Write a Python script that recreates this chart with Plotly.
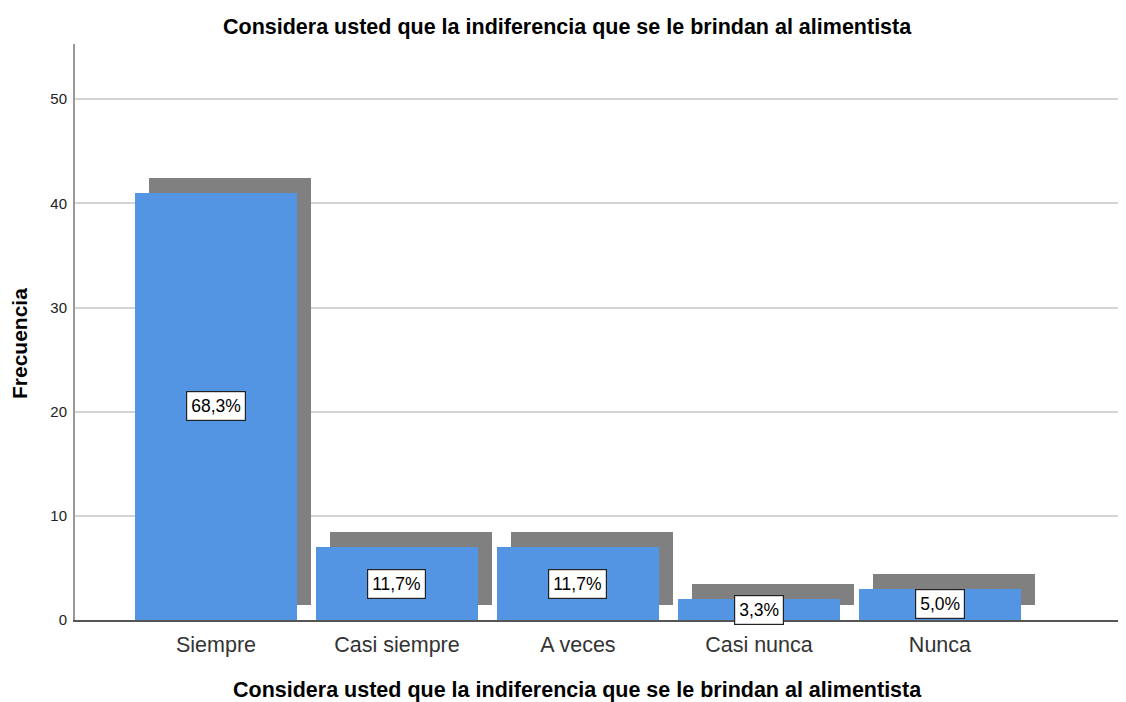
import plotly.graph_objects as go

categories = ["Siempre", "Casi siempre", "A veces", "Casi nunca", "Nunca"]
frequencies = [41, 7, 7, 2, 3]
percent_labels = ["68,3%", "11,7%", "11,7%", "3,3%", "5,0%"]
title_text = "Considera usted que la indiferencia que se le brindan al alimentista"

positions = list(range(len(categories)))
shadow_dx = 0.075
shadow_dy = 1.45
bar_w = 0.895

# page has an 8px body margin; plot area targeted at x 75..1126, y 44..620
W, H = 1118, 694
ML, MT, MB = 67, 36, 82
PW, PH = W - ML, H - MT - MB

def px_x(p):
    return (p - 75) / PW

def px_y(p):
    return (620 - p) / PH

fig = go.Figure()
fig.add_trace(go.Bar(
    x=[p + shadow_dx for p in positions], y=frequencies, base=shadow_dy,
    width=bar_w, marker=dict(color="#808080", line=dict(width=0)),
    hoverinfo="skip", showlegend=False))
fig.add_trace(go.Bar(
    x=positions, y=frequencies, width=bar_w,
    marker=dict(color="#5394E3", line=dict(width=0)),
    showlegend=False, name="Frecuencia"))

for p, v, t in zip(positions, frequencies, percent_labels):
    fig.add_annotation(x=p, y=v / 2, xref="x", yref="y", text=t, showarrow=False,
                       xanchor="center", yanchor="middle",
                       font=dict(family="Liberation Sans, Arial", size=17.5, color="#000"),
                       bgcolor="#ffffff", bordercolor="#222222", borderwidth=1.2, borderpad=4)

fig.add_annotation(text="<b>" + title_text + "</b>", xref="paper", yref="paper",
                   x=px_x(567), y=px_y(27), showarrow=False,
                   xanchor="center", yanchor="middle",
                   font=dict(family="Liberation Sans, Arial", size=21.5, color="#000"))
fig.add_annotation(text="<b>" + title_text + "</b>", xref="paper", yref="paper",
                   x=px_x(577), y=px_y(690), showarrow=False,
                   xanchor="center", yanchor="middle",
                   font=dict(family="Liberation Sans, Arial", size=21.5, color="#000"))
fig.add_annotation(text="<b>Frecuencia</b>", xref="paper", yref="paper",
                   x=px_x(20), y=px_y(344), showarrow=False, textangle=-90,
                   xanchor="center", yanchor="middle",
                   font=dict(family="Liberation Sans, Arial", size=21, color="#000"))

fig.update_layout(
    width=W, height=H,
    margin=dict(l=ML, r=0, t=MT, b=MB),
    paper_bgcolor="#ffffff", plot_bgcolor="#ffffff",
    barmode="overlay", bargap=0,
    font=dict(family="Liberation Sans, Arial", color="#222"),
    xaxis=dict(range=[-0.779, 5.028], tickvals=positions, ticktext=categories,
               showgrid=False, zeroline=False, showline=True, linecolor="#555555",
               linewidth=1.5, ticks="", tickfont=dict(size=21.5, color="#333"),
               ticklabelstandoff=4),
    yaxis=dict(range=[0, 55.3], tickvals=[0, 10, 20, 30, 40, 50],
               showgrid=True, gridcolor="#d4d4d4", gridwidth=1.5, zeroline=False,
               showline=True, linecolor="#999999", linewidth=2, ticks="",
               tickfont=dict(size=15, color="#222"), ticklabelstandoff=3),
)

fig.write_html("out.html")
